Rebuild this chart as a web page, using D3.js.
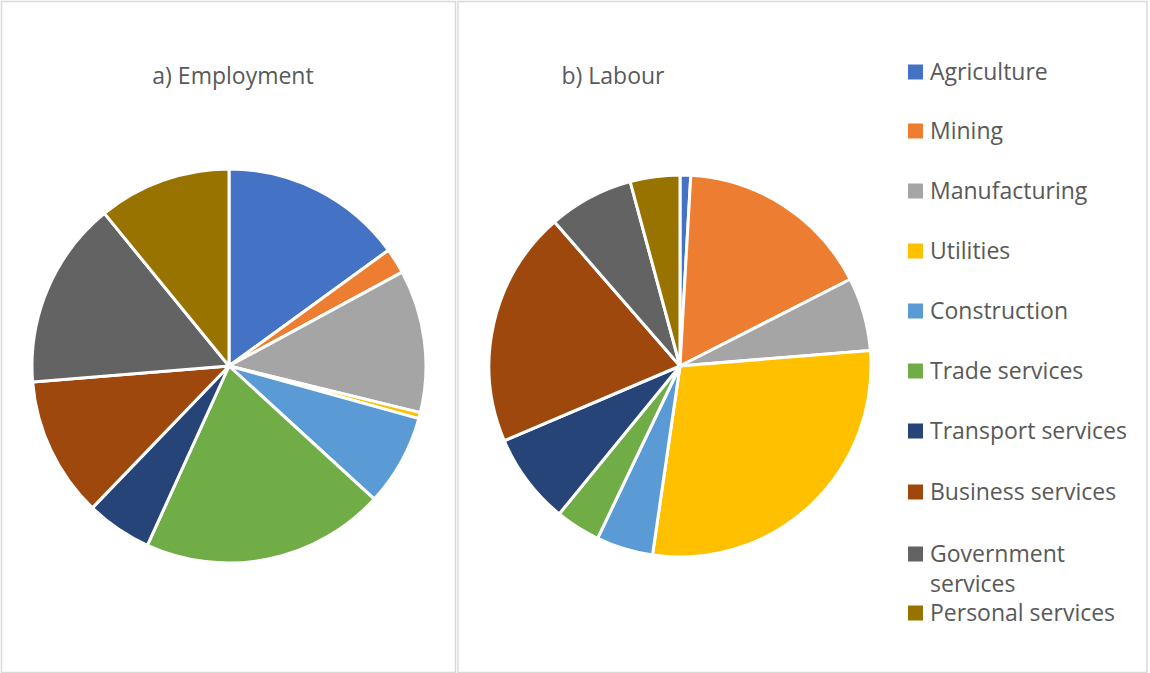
<!DOCTYPE html>
<html>
<head>
<meta charset="utf-8">
<script src="https://cdn.jsdelivr.net/npm/d3@7"></script>
<style>
  html, body { margin: 0; padding: 0; background: #fff; }
  svg { display: block; }
  text { font-family: "Open Sans", sans-serif; fill: #595959; }
</style>
</head>
<body>
<svg id="chart" width="1150" height="673"></svg>
<script>
const categories = ["Agriculture", "Mining", "Manufacturing", "Utilities", "Construction",
  "Trade services", "Transport services", "Business services", "Government services", "Personal services"];
const employment = [15.0, 2.1, 11.7, 0.5, 7.5, 20.0, 5.4, 11.5, 15.4, 10.9];
const labour = [0.9, 16.6, 6.2, 28.6, 4.8, 3.8, 7.7, 20.0, 7.2, 4.2];
const colors = ["#4472C4", "#ED7D31", "#A5A5A5", "#FFC000", "#5B9BD5",
  "#70AD47", "#264478", "#9E480E", "#636363", "#997300"];
const titles = ["a) Employment", "b) Labour"];

const svg = d3.select("#chart");
const color = d3.scaleOrdinal().domain(categories).range(colors);

// panel borders
const panels = [
  {x: 1.5, y: 1.5, w: 454, h: 671},
  {x: 458, y: 1.5, w: 689, h: 671}
];
svg.selectAll("rect.panel").data(panels).enter().append("rect")
  .attr("class", "panel")
  .attr("x", d => d.x).attr("y", d => d.y)
  .attr("width", d => d.w).attr("height", d => d.h)
  .attr("fill", "none").attr("stroke", "#d9d9d9").attr("stroke-width", 1.5);

const pie = d3.pie().sort(null).value(d => d.v);

function drawPie(values, cx, cy, r, title, tx, ty) {
  const g = svg.append("g").attr("transform", `translate(${cx},${cy})`);
  const arc = d3.arc().innerRadius(0).outerRadius(r);
  const data = pie(values.map((v, i) => ({v, c: categories[i]})));
  g.selectAll("path").data(data).enter().append("path")
    .attr("d", arc)
    .attr("fill", d => color(d.data.c))
    .attr("stroke", "#fff").attr("stroke-width", 3).attr("stroke-linejoin", "round");
  svg.append("text").attr("x", tx).attr("y", ty)
    .attr("text-anchor", "middle").attr("font-size", 23).text(title);
}

drawPie(employment, 229, 366, 197, titles[0], 233, 84);
drawPie(labour, 680, 366, 191, titles[1], 613, 84);

// legend
const rowY = [72, 131, 191, 251, 311, 371, 431, 492, 554, 613];
const lg = svg.append("g");
categories.forEach((c, i) => {
  lg.append("rect").attr("x", 908).attr("y", rowY[i] - 7.5)
    .attr("width", 15).attr("height", 15).attr("fill", color(c));
  const t = lg.append("text").attr("x", 930).attr("y", rowY[i] + 8).attr("font-size", 23);
  if (c === "Government services") {
    t.append("tspan").attr("x", 930).text("Government");
    t.append("tspan").attr("x", 930).attr("dy", 30).text("services");
  } else {
    t.text(c);
  }
});
</script>
</body>
</html>
